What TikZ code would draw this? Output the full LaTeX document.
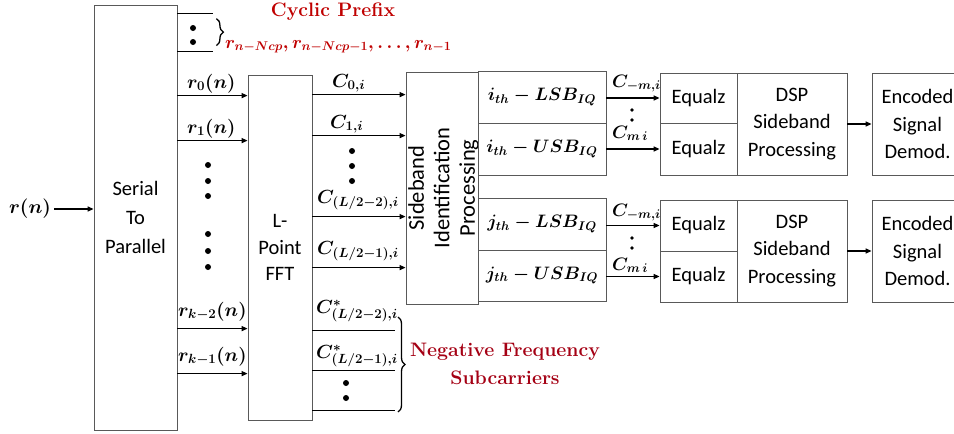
\documentclass[tikz,border=0pt]{standalone}
\usepackage{fix-cm}
\usepackage{fontspec}
\setsansfont{Carlito}
\usetikzlibrary{arrows.meta,decorations.pathreplacing}
\definecolor{cpred}{RGB}{192,0,0}
\definecolor{nfred}{RGB}{165,0,20}
\tikzset{
  box/.style={draw=black!65, line width=0.8pt, inner sep=0pt, align=center,
    font=\sffamily\fontsize{20.5}{27.5}\selectfont},
  mbox/.style={box, font=\fontsize{18}{20}\selectfont\boldmath},
  arr/.style={-{Triangle[length=6pt,width=5pt]}, line width=1.3pt},
  ln/.style={line width=1.5pt},
  mlab/.style={inner sep=0pt, anchor=base west, font=\fontsize{19}{20}\selectfont\boldmath},
  dotf/.style={fill=black},
  redhead/.style={inner sep=0pt, font=\bfseries\fontsize{19.5}{28}\selectfont, align=center},
  brc/.style={decorate, decoration={brace, amplitude=7pt}, line width=1.3pt}
}
\begin{document}
\begin{tikzpicture}[x=1pt,y=-1pt]
\clip (0,0) rectangle (954,434);
\fill[white] (0,0) rectangle (954,434);

% Serial to parallel
\node[box, minimum width=83pt, minimum height=425pt, font=\sffamily\fontsize{20.5}{29}\selectfont] (sp) at (135.5,217.5) {Serial\\To\\Parallel};
\node[inner sep=0pt, font=\fontsize{19.5}{20}\selectfont\boldmath] (rn) at (30,209) {$r(n)$};
\draw[arr] (rn.east) ++(3,0) coordinate (rns) -- (rns -| sp.west);

% cyclic prefix
\path (sp.north east) ++(0,9) coordinate (cpa) (sp.north east) ++(0,47) coordinate (cpb);
\draw[ln] (cpa) -- ++(36,0) coordinate (cpa2);
\draw[ln] (cpb) -- ++(36,0) coordinate (cpb2);
\fill[dotf] (193,28) circle[radius=3pt] (193,42) circle[radius=3pt];
\draw[brc] ([xshift=3pt,yshift=-5pt]cpa2) -- ([xshift=3pt,yshift=6pt]cpb2);
\node[redhead, text=cpred] (cptitle) at (333,12) {Cyclic Prefix};
\node[mlab, text=cpred, font=\fontsize{18}{20}\selectfont\boldmath] (cptext) at (225,48) {$r_{n-Ncp}, r_{n-Ncp-1}, \dots, r_{n-1}$};

% FFT
\node[box, minimum width=64pt, minimum height=345pt, font=\sffamily\fontsize{20.5}{26.5}\selectfont] (fft) at (280,247.5) {L-\\Point\\FFT};

% SP -> FFT
\path (sp.north east) ++(0,91) coordinate (s0)
      (sp.north east) ++(0,136) coordinate (s1)
      (sp.north east) ++(0,324) coordinate (s2)
      (sp.north east) ++(0,369) coordinate (s3);
\draw[arr] (s0) -- (s0 -| fft.west);
\draw[arr] (s1) -- (s1 -| fft.west);
\draw[arr] (s2) -- (s2 -| fft.west);
\draw[arr] (s3) -- (s3 -| fft.west);
\node[mlab] (lr0) at (187,88) {$r_0(n)$};
\node[mlab] (lr1) at (187,133) {$r_1(n)$};
\node[mlab] (lrk2) at (178,316) {$r_{k-2}(n)$};
\node[mlab] (lrk1) at (178,361) {$r_{k-1}(n)$};
\fill[dotf] (208,165) circle[radius=3pt] (208,181) circle[radius=3pt] (208,196) circle[radius=3pt];
\fill[dotf] (208,234) circle[radius=3pt] (208,251) circle[radius=3pt] (208,267) circle[radius=3pt];

% Sideband identification
\node[box, minimum width=72pt, minimum height=232pt] (sip) at (442,188) {};
\node[rotate=90, align=center, inner sep=0pt, font=\sffamily\fontsize{22.5}{25.5}\selectfont] (siptext) at ([xshift=1.5pt]sip.center) {Sideband\\Identification\\Processing};

% FFT -> SIP
\path (fft.north east) ++(0,20) coordinate (f0)
      (fft.north east) ++(0,61) coordinate (f1)
      (fft.north east) ++(0,142) coordinate (f2)
      (fft.north east) ++(0,193) coordinate (f3)
      (fft.north east) ++(0,256) coordinate (f4)
      (fft.north east) ++(0,296) coordinate (f5)
      (fft.north east) ++(0,336) coordinate (f6);
\draw[arr] (f0) -- (f0 -| sip.west);
\draw[arr] (f1) -- (f1 -| sip.west);
\draw[arr] (f2) -- (f2 -| sip.west);
\draw[arr] (f3) -- (f3 -| sip.west);
\draw[ln] (f4) -- ++(83,0) coordinate (f4e);
\draw[ln] (f5) -- ++(83,0) coordinate (f5e);
\draw[ln] (f6) -- ++(83,0) coordinate (f6e);
\node[mlab] (lc0) at (332,87) {$C_{0,i}$};
\node[mlab] (lc1) at (330,128) {$C_{1,i}$};
\node[mlab] (lc2) at (317,203) {$C_{(L/2-2),i}$};
\node[mlab] (lc3) at (317,254) {$C_{(L/2-1),i}$};
\node[mlab] (lc4) at (316,313) {$C^*_{(L/2-2),i}$};
\node[mlab] (lc5) at (316,358) {$C^*_{(L/2-1),i}$};
\fill[dotf] (352,151) circle[radius=3pt] (352,166) circle[radius=3pt] (352,181) circle[radius=3pt];
\fill[dotf] (346,383) circle[radius=3pt] (346,398) circle[radius=3pt];
\draw[brc] (398,317) -- (398,412);
\node[redhead, text=nfred] (nftext) at (505,364) {Negative Frequency\\Subcarriers};

% sideband boxes
\node[mbox, minimum width=128pt, minimum height=52pt] (il) at (542,97) {$i_{th}-LSB_{IQ}$};
\node[mbox, minimum width=128pt, minimum height=52pt] (iu) at (542,149) {$i_{th}-USB_{IQ}$};
\node[mbox, minimum width=128pt, minimum height=52pt] (jl) at (542,224) {$j_{th}-LSB_{IQ}$};
\node[mbox, minimum width=128pt, minimum height=51pt] (ju) at (542,275.5) {$j_{th}-USB_{IQ}$};

% equalizers, DSP, demod
\node[box, minimum width=77pt, minimum height=50pt] (eq1) at (698.5,98) {Equalz};
\node[box, minimum width=77pt, minimum height=52pt] (eq2) at (698.5,149) {Equalz};
\node[box, minimum width=110pt, minimum height=102pt] (dsp1) at (792,124) {DSP\\Sideband\\Processing};
\node[box, minimum width=91pt, minimum height=102pt] (enc1) at (917.5,124) {Encoded\\Signal\\Demod.};
\node[box, minimum width=77pt, minimum height=51pt] (eq3) at (698.5,225.5) {Equalz};
\node[box, minimum width=77pt, minimum height=51pt] (eq4) at (698.5,276.5) {Equalz};
\node[box, minimum width=110pt, minimum height=102pt] (dsp2) at (792,251) {DSP\\Sideband\\Processing};
\node[box, minimum width=91pt, minimum height=102pt] (enc2) at (917.5,251) {Encoded\\Signal\\Demod.};

\draw[arr] (il.east |- eq1.west) -- (eq1.west);
\draw[arr] (iu.east |- eq2.west) -- (eq2.west);
\draw[arr] (jl.east |- eq3.west) -- (eq3.west);
\draw[arr] (ju.east |- eq4.west) -- (eq4.west);
\node[mlab, font=\fontsize{18}{20}\selectfont\boldmath] (lm1) at (612,87) {$C_{-m,i}$};
\node[mlab, font=\fontsize{18}{20}\selectfont\boldmath] (lp1) at (612,138) {$C_{m\,i}$};
\node[mlab, font=\fontsize{18}{20}\selectfont\boldmath] (lm2) at (612,216) {$C_{-m,i}$};
\node[mlab, font=\fontsize{18}{20}\selectfont\boldmath] (lp2) at (612,270) {$C_{m\,i}$};
\fill[dotf] (632,110) circle[radius=1.9pt] (632,120) circle[radius=1.9pt];
\fill[dotf] (632,238) circle[radius=1.9pt] (632,248) circle[radius=1.9pt];

\draw[arr] (dsp1.east) -- (enc1.west);
\draw[arr] (dsp2.east) -- (enc2.west);
\end{tikzpicture}
\end{document}
